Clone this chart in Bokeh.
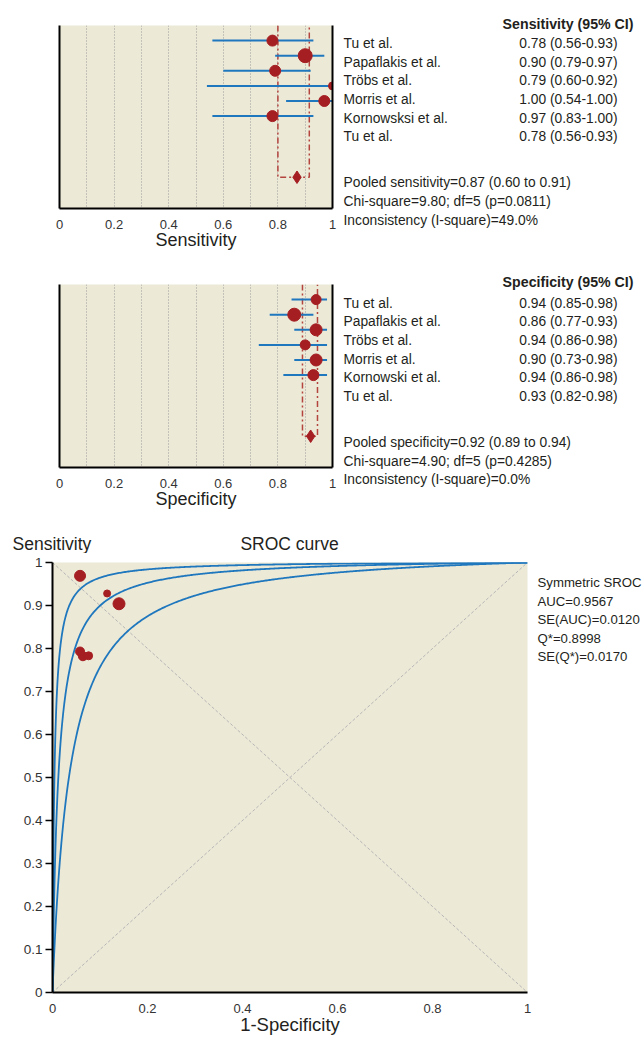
import numpy as np
from bokeh.plotting import figure
from bokeh.models import Range1d, FixedTicker, Label, LinearAxis
from bokeh.layouts import column, row
from bokeh.embed import file_html
from bokeh.resources import INLINE

# ---------------- data ----------------
sens_studies = ["Tu et al.", "Papaflakis et al.", "Tröbs et al.", "Morris et al.",
                "Kornowsksi et al.", "Tu et al."]
sens = [0.78, 0.90, 0.79, 1.00, 0.97, 0.78]
sens_lo = [0.56, 0.79, 0.60, 0.54, 0.83, 0.56]
sens_hi = [0.93, 0.97, 0.92, 1.00, 1.00, 0.93]
sens_weight = [11, 14, 11, 8, 11, 11]
sens_pooled = 0.87
sens_pooled_ci = [0.80, 0.915]
sens_texts = ["Pooled sensitivity=0.87 (0.60 to 0.91)",
              "Chi-square=9.80; df=5 (p=0.0811)",
              "Inconsistency (I-square)=49.0%"]

spec_studies = ["Tu et al.", "Papaflakis et al.", "Tröbs et al.", "Morris et al.",
                "Kornowski et al.", "Tu et al."]
spec = [0.94, 0.86, 0.94, 0.90, 0.94, 0.93]
spec_lo = [0.85, 0.77, 0.86, 0.73, 0.86, 0.82]
spec_hi = [0.98, 0.93, 0.98, 0.98, 0.98, 0.98]
spec_weight = [10, 13, 12, 10, 12, 11]
spec_pooled = 0.92
spec_pooled_ci = [0.89, 0.945]
spec_texts = ["Pooled specificity=0.92 (0.89 to 0.94)",
              "Chi-square=4.90; df=5 (p=0.4285)",
              "Inconsistency (I-square)=0.0%"]

forest_ticks = [0, 0.2, 0.4, 0.6, 0.8, 1.0]
forest_tick_labels = ["0", "0.2", "0.4", "0.6", "0.8", "1"]
forest_grid = [0.1, 0.2, 0.3, 0.4, 0.5, 0.6, 0.7, 0.8, 0.9]

# SROC study points (1-specificity, sensitivity)
sroc_fpr = [0.064, 0.14, 0.058, 0.115, 0.058, 0.076]
sroc_tpr = [0.782, 0.904, 0.793, 0.928, 0.969, 0.783]
sroc_size = [9, 12, 9, 7, 11, 8]
# Q* of the symmetric SROC curve and of its two bounding curves
sroc_qstar = [0.94, 0.8998, 0.841]
sroc_texts = ["Symmetric SROC", "AUC=0.9567", "SE(AUC)=0.0120", "Q*=0.8998", "SE(Q*)=0.0170"]
sroc_xticks = [0, 0.2, 0.4, 0.6, 0.8, 1.0]
sroc_xtick_labels = ["0", "0.2", "0.4", "0.6", "0.8", "1"]
sroc_yticks = [0, 0.1, 0.2, 0.3, 0.4, 0.5, 0.6, 0.7, 0.8, 0.9, 1.0]
sroc_ytick_labels = ["0", "0.1", "0.2", "0.3", "0.4", "0.5", "0.6", "0.7", "0.8", "0.9", "1"]

# ---------------- style ----------------
BEIGE = "#ECE9D7"
RED = "#A51E22"
BLUE = "#1F77BD"
DASHRED = "#B3443E"
TXT = "#231F20"
FONT = "Liberation Sans"
TS = "13.8px"
TOTAL_W = 644
FOREST_W = 340


def add_label(p, x, y, text, size=TS, align="left", baseline="middle", bold=False, color=TXT):
    p.add_layout(Label(x=x, y=y, text=text, x_units="data", y_units="data",
                       text_font=FONT, text_font_size=size, text_align=align,
                       text_baseline=baseline, text_color=color,
                       text_font_style="bold" if bold else "normal"))


def text_fig(x0, y0, width, height):
    """Blank panel whose data units are page pixels, used to hold text."""
    t = figure(width=width, height=height, x_range=Range1d(x0, x0 + width),
               y_range=Range1d(y0 + height, y0), x_axis_location=None, y_axis_location=None,
               min_border=0, output_backend="svg", toolbar_location=None)
    t.outline_line_color = None
    t.grid.visible = False
    t.background_fill_color = "white"
    t.border_fill_color = "white"
    return t


def border_axis():
    return LinearAxis(ticker=FixedTicker(ticks=[]), major_tick_line_color=None,
                      minor_tick_line_color=None, axis_line_width=2, axis_line_color="black")


def forest(page_top, height, frame_top, names, vals, lo, hi, weight, pooled, pooled_ci,
           header, texts, axis_title, text_rows_y, stat_rows_y, header_y):
    frame_h = 183
    y_top, y_bot = -1.0, 11.12
    p = figure(width=FOREST_W, height=height, x_range=Range1d(0, 1),
               y_range=Range1d(y_bot, y_top), y_axis_location=None,
               output_backend="svg", toolbar_location=None,
               min_border_left=59, min_border_right=FOREST_W - 59 - 273,
               min_border_top=frame_top - page_top,
               min_border_bottom=height - (frame_top - page_top) - frame_h)
    p.background_fill_color = BEIGE
    p.border_fill_color = "white"
    p.outline_line_color = None
    p.ygrid.visible = False
    p.xgrid.ticker = FixedTicker(ticks=forest_grid)
    p.xgrid.grid_line_color = "#9a9a9a"
    p.xgrid.grid_line_dash = "1 2"
    p.xgrid.grid_line_width = 1

    ax = p.xaxis[0]
    ax.ticker = FixedTicker(ticks=forest_ticks)
    ax.major_label_overrides = {t: l for t, l in zip(forest_ticks, forest_tick_labels)}
    ax.major_tick_line_color = None
    ax.minor_tick_line_color = None
    ax.axis_line_width = 2
    ax.axis_line_color = "black"
    ax.major_label_text_font = FONT
    ax.major_label_text_font_size = "13px"
    ax.major_label_text_color = "#333333"
    ax.major_label_standoff = 5
    ax.axis_label = axis_title
    ax.axis_label_text_font = FONT
    ax.axis_label_text_font_size = "18px"
    ax.axis_label_text_font_style = "normal"
    ax.axis_label_text_color = TXT
    ax.axis_label_standoff = -2

    p.add_layout(border_axis(), "left")
    p.add_layout(border_axis(), "right")

    rows = list(range(len(vals)))
    pooled_row = 9.05
    p.line([pooled_ci[0], pooled_ci[0], pooled_ci[1], pooled_ci[1]],
           [y_top, pooled_row, pooled_row, y_top],
           line_color=DASHRED, line_width=1.5, line_dash="6 3 2 3")
    p.segment(x0=lo, y0=rows, x1=hi, y1=rows, line_color=BLUE, line_width=2)
    p.scatter(vals, rows, size=weight, color=RED, line_color=RED)
    p.scatter([pooled], [pooled_row], marker="diamond", size=12.5, color=RED, line_color=RED)

    t = text_fig(FOREST_W, page_top, TOTAL_W - FOREST_W, height)
    add_label(t, 633, header_y, header, bold=True, align="right", size="14.2px")
    for i, (n, v, l, h) in enumerate(zip(names, vals, lo, hi)):
        add_label(t, 343, text_rows_y[i], n)
        add_label(t, 617, text_rows_y[i], "%.2f (%.2f-%.2f)" % (v, l, h), align="right")
    for s, sy in zip(texts, stat_rows_y):
        add_label(t, 343, sy, s)
    # the text panel is wrapped so that its frame is not aligned with the plot's frame
    return row(p, column(t, spacing=0), spacing=0)


r1 = forest(0, 258, 25, sens_studies, sens, sens_lo, sens_hi, sens_weight, sens_pooled,
            sens_pooled_ci, "Sensitivity (95% CI)", sens_texts, "Sensitivity",
            [43, 61.7, 80.3, 99, 117.5, 136], [182, 201, 220], 23)
r2 = forest(258, 259, 284, spec_studies, spec, spec_lo, spec_hi, spec_weight, spec_pooled,
            spec_pooled_ci, "Specificity (95% CI)", spec_texts, "Specificity",
            [302.5, 321.3, 340, 358.7, 377.3, 396], [442, 460.5, 479], 281)

# ---------------- SROC ----------------
SROC_W = 532
TITLE_TOP, SROC_TOP, PAGE_BOT = 517, 553, 1037
F_TOP, F_BOT, F_LEFT, F_RIGHT = 562, 1001, 52, 527
p3 = figure(width=SROC_W, height=PAGE_BOT - SROC_TOP, x_range=Range1d(0, 1),
            y_range=Range1d(0, 1), output_backend="svg", toolbar_location=None,
            min_border_left=F_LEFT, min_border_right=SROC_W - F_RIGHT,
            min_border_top=F_TOP - SROC_TOP, min_border_bottom=PAGE_BOT - F_BOT)
p3.background_fill_color = BEIGE
p3.border_fill_color = "white"
p3.outline_line_color = None
p3.xgrid.visible = False
p3.ygrid.visible = False

xa = p3.xaxis[0]
xa.ticker = FixedTicker(ticks=sroc_xticks)
xa.major_label_overrides = {t: l for t, l in zip(sroc_xticks, sroc_xtick_labels)}
xa.major_tick_line_color = None
xa.minor_tick_line_color = None
xa.axis_line_width = 2
xa.axis_line_color = "black"
xa.major_label_text_font = FONT
xa.major_label_text_font_size = "13px"
xa.major_label_text_color = "#333333"
xa.major_label_standoff = 5
xa.axis_label = "1-Specificity"
xa.axis_label_text_font = FONT
xa.axis_label_text_font_size = "18.5px"
xa.axis_label_text_font_style = "normal"
xa.axis_label_text_color = TXT
xa.axis_label_standoff = -2

ya = p3.yaxis[0]
ya.ticker = FixedTicker(ticks=sroc_yticks)
ya.major_label_overrides = {t: l for t, l in zip(sroc_yticks, sroc_ytick_labels)}
ya.major_tick_in = 0
ya.major_tick_out = 7
ya.major_tick_line_width = 1.5
ya.major_tick_line_color = "black"
ya.minor_tick_line_color = None
ya.axis_line_width = 2
ya.axis_line_color = "black"
ya.major_label_text_font = FONT
ya.major_label_text_font_size = "13.5px"
ya.major_label_text_color = "#333333"
ya.major_label_standoff = 3

# reference diagonals
p3.line([0, 1], [0, 1], line_color="#b5b5b5", line_width=1, line_dash="3 2")
p3.line([0, 1], [1, 0], line_color="#b5b5b5", line_width=1, line_dash="3 2")

# symmetric SROC model: logit(TPR) = a + logit(FPR), with a = 2*logit(Q*)
fpr = np.concatenate([[0.0], np.geomspace(1e-6, 0.02, 120), np.linspace(0.02, 1.0, 400)[1:]])
for q in sroc_qstar:
    a = 2 * np.log(q / (1 - q))
    tpr = np.where(fpr > 0, 1.0 / (1.0 + np.exp(-a) * (1 - fpr) / np.maximum(fpr, 1e-12)), 0.0)
    p3.line(fpr, tpr, line_color=BLUE, line_width=1.8)

p3.scatter(sroc_fpr, sroc_tpr, size=sroc_size, color=RED, line_color=RED)

title_fig = text_fig(0, TITLE_TOP, SROC_W, SROC_TOP - TITLE_TOP)
add_label(title_fig, 12, 543, "Sensitivity", size="17.5px")
add_label(title_fig, 289, 543, "SROC curve", size="17.5px", align="center")

side = text_fig(SROC_W, TITLE_TOP, TOTAL_W - SROC_W, PAGE_BOT - TITLE_TOP)
for s, sy in zip(sroc_texts, [582, 600.5, 619, 637.5, 656]):
    add_label(side, 537, sy, s, size="13.2px")

r3 = row(column(row(title_fig, spacing=0), p3, spacing=0), column(side, spacing=0), spacing=0)

layout = column(r1, r2, r3, spacing=0)
open("out.html", "w").write(file_html(layout, INLINE))
